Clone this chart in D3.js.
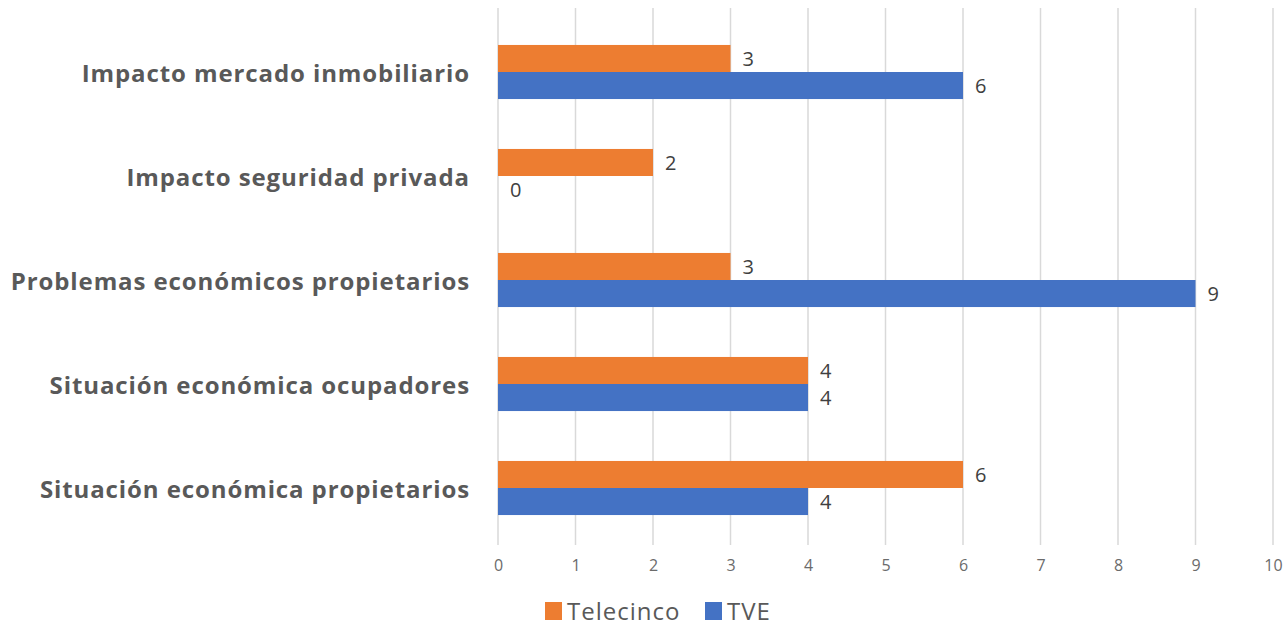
<!DOCTYPE html>
<html>
<head>
<meta charset="utf-8">
<script src="https://cdn.jsdelivr.net/npm/d3@7"></script>
<style>
  body { margin: 0; background: #fff; }
  svg { font-family: "Open Sans", sans-serif; }
</style>
</head>
<body>
<svg id="chart"></svg>
<script>
const categories = [
    "Impacto mercado inmobiliario",
    "Impacto seguridad privada",
    "Problemas económicos propietarios",
    "Situación económica ocupadores",
    "Situación económica propietarios"
];
const seriesNames = ["Telecinco", "TVE"];
const telecinco = [3, 2, 3, 4, 6];
const tve = [6, 0, 9, 4, 4];
const xTicks = [0, 1, 2, 3, 4, 5, 6, 7, 8, 9, 10];
const colors = ["#ED7D31", "#4472C4"];

const width = 1286, height = 628;
const margin = { top: 20, right: 13, bottom: 88, left: 498 };
const innerW = width - margin.left - margin.right;
const innerH = height - margin.top - margin.bottom;

const svg = d3.select("#chart").attr("width", width).attr("height", height);
const g = svg.append("g").attr("transform", `translate(${margin.left},${margin.top})`);

const data = categories.map((c, i) => ({ name: c, values: [telecinco[i], tve[i]] }));

const xScale = d3.scaleLinear().domain([0, 10]).range([0, innerW]);
const yScale = d3.scaleBand().domain(categories).range([0, innerH]).paddingInner(0.48).paddingOuter(0.24);
const subScale = d3.scaleBand().domain(seriesNames).range([0, yScale.bandwidth()]);

// gridlines
g.append("g")
    .selectAll("line")
    .data(xTicks)
    .join("line")
    .attr("x1", d => xScale(d))
    .attr("x2", d => xScale(d))
    .attr("y1", -12)
    .attr("y2", innerH + 5)
    .attr("stroke", "#d9d9d9")
    .attr("stroke-width", 1.5);

// x axis labels
const xAxis = g.append("g")
    .attr("transform", `translate(0,${innerH})`)
    .call(d3.axisBottom(xScale).tickValues(xTicks).tickSize(0).tickPadding(20));
xAxis.select(".domain").remove();
xAxis.selectAll("text")
    .style("font-size", "16px")
    .style("font-family", "Open Sans, sans-serif")
    .attr("fill", "#6b6b6b");

// y axis labels
const yAxis = g.append("g")
    .call(d3.axisLeft(yScale).tickSize(0).tickPadding(28));
yAxis.select(".domain").remove();
yAxis.selectAll("text")
    .attr("dy", "0.4em")
    .style("font-size", "24px")
    .style("font-weight", "bold")
    .style("letter-spacing", "0.9px")
    .style("font-family", "Open Sans, sans-serif")
    .attr("fill", "#595959");

// bars
const groups = g.selectAll(".cat")
    .data(data)
    .join("g")
    .attr("class", "cat")
    .attr("transform", d => `translate(0,${yScale(d.name)})`);

groups.selectAll("rect")
    .data(d => d.values.map((v, i) => ({ series: seriesNames[i], value: v, i })))
    .join("rect")
    .attr("x", 0)
    .attr("y", d => subScale(d.series))
    .attr("width", d => xScale(d.value))
    .attr("height", subScale.bandwidth())
    .attr("fill", d => colors[d.i]);

groups.selectAll("text")
    .data(d => d.values.map((v, i) => ({ series: seriesNames[i], value: v, i })))
    .join("text")
    .attr("x", d => xScale(d.value) + 12)
    .attr("y", d => subScale(d.series) + subScale.bandwidth() / 2)
    .attr("dy", "0.36em")
    .style("font-size", "20px")
    .attr("fill", "#404040")
    .text(d => d.value);

// legend
const legend = svg.append("g").attr("transform", `translate(545,${height - 8})`);
const legendX = [0, 160];
seriesNames.forEach((s, i) => {
    const lg = legend.append("g").attr("transform", `translate(${legendX[i]},0)`);
    lg.append("rect").attr("x", 0).attr("y", -18).attr("width", 17).attr("height", 18).attr("fill", colors[i]);
    lg.append("text").attr("x", 22).attr("y", 0)
        .style("font-size", "24px")
        .style("letter-spacing", "1px")
        .attr("fill", "#595959")
        .text(s);
});
</script>
</body>
</html>
